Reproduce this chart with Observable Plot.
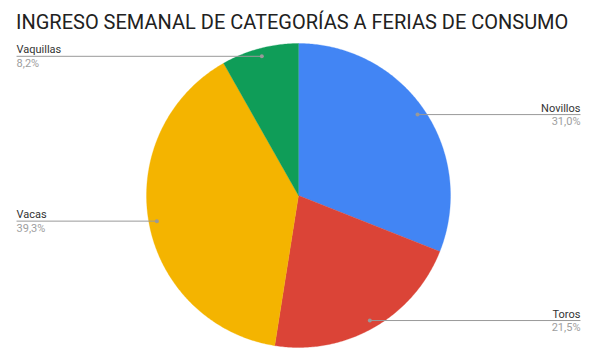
<!DOCTYPE html>
<html><head><meta charset="utf-8">
<script src="https://cdn.jsdelivr.net/npm/d3@7"></script>
<script src="https://cdn.jsdelivr.net/npm/@observablehq/plot@0.6"></script>
<style>
body{margin:0;background:#fff;font-family:Roboto,sans-serif;}
#title{box-sizing:border-box;height:36px;padding:12px 0 0 16px;font-size:20px;line-height:20px;color:#212121;white-space:nowrap;}
</style></head><body>
<div id="chart"><div id="title">INGRESO SEMANAL DE CATEGORÍAS A FERIAS DE CONSUMO</div></div>
<script>
const categories = ["Novillos", "Toros", "Vacas", "Vaquillas"];
const values = [31.0, 21.5, 39.3, 8.2];
const percentLabels = ["31,0%", "21,5%", "39,3%", "8,2%"];
const colors = ["#4285F4", "#DB4437", "#F4B400", "#0F9D58"];

const total = d3.sum(values);
const slices = [];
const labels = [];
let cum = 0;
categories.forEach((name, i) => {
  const a0 = cum / total * 2 * Math.PI;
  cum += values[i];
  const a1 = cum / total * 2 * Math.PI;
  slices.push({name, x: 0, y: 0});
  const n = Math.max(4, Math.ceil((a1 - a0) / 0.01));
  for (let k = 0; k <= n; k++) {
    const a = a0 + (a1 - a0) * k / n;
    slices.push({name, x: Math.sin(a), y: Math.cos(a)});
  }
  slices.push({name, x: 0, y: 0});
  const am = (a0 + a1) / 2;
  const right = Math.sin(am) >= 0;
  labels.push({
    name, pct: percentLabels[i], right,
    dx: 0.947 * Math.sin(am), dy: 0.947 * Math.cos(am),
    lx: right ? 1.855 : -1.855
  });
});

const plot = Plot.plot({
  width: 594, height: 326,
  marginLeft: 146, marginRight: 144, marginTop: 7, marginBottom: 15,
  x: {domain: [-1, 1], axis: null},
  y: {domain: [-1, 1], axis: null},
  color: {domain: categories, range: colors},
  style: {fontFamily: "Roboto, sans-serif", background: "#fff"},
  marks: [
    Plot.line(slices, {x: "x", y: "y", z: "name", fill: "name", stroke: "name", strokeWidth: 0.3, curve: "linear"}),
    Plot.link(labels, {x1: "dx", y1: "dy", x2: "lx", y2: "dy", stroke: "#999", strokeWidth: 1}),
    Plot.dot(labels, {x: "dx", y: "dy", r: 2, fill: "#999", stroke: null}),
    Plot.text(labels.filter(d => !d.right), {x: "lx", y: "dy", text: "name", textAnchor: "start", lineAnchor: "bottom", dy: -3, fontSize: 11, fill: "#333"}),
    Plot.text(labels.filter(d => !d.right), {x: "lx", y: "dy", text: "pct", textAnchor: "start", lineAnchor: "top", dy: 3, fontSize: 11, fill: "#9e9e9e"}),
    Plot.text(labels.filter(d => d.right), {x: "lx", y: "dy", text: "name", textAnchor: "end", lineAnchor: "bottom", dy: -3, fontSize: 11, fill: "#333"}),
    Plot.text(labels.filter(d => d.right), {x: "lx", y: "dy", text: "pct", textAnchor: "end", lineAnchor: "top", dy: 3, fontSize: 11, fill: "#9e9e9e"})
  ]
});
document.getElementById("chart").appendChild(plot);
</script>
</body></html>
